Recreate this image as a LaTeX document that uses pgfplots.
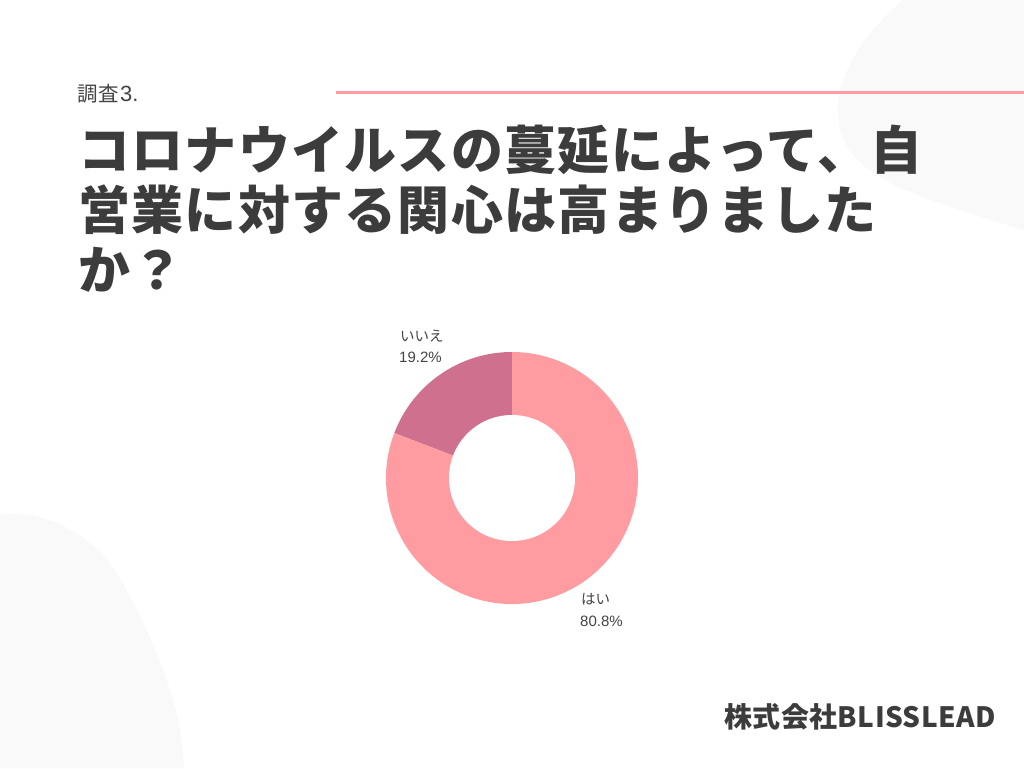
\documentclass[border=0pt]{standalone}
\usepackage{pgfplots}
\pgfplotsset{compat=1.18}
\usepackage{pgfplotstable}
\usepackage{fontspec}
\setmainfont{Noto Sans CJK JP}
\newfontfamily\lat{Liberation Sans}
\definecolor{hai}{HTML}{FF9CA2}
\definecolor{iie}{HTML}{D0708F}
\definecolor{txt}{HTML}{3C3C3C}
\definecolor{lbl}{HTML}{444444}
\definecolor{blob}{HTML}{F9F9F9}
\pgfplotstableread{
label value
iie 19.2
hai 80.8
}\piedata
\begin{document}
\begin{tikzpicture}[x=1pt,y=1pt]
\pgfplotstablegetelem{0}{value}\of\piedata \let\vA\pgfplotsretval
\pgfplotstablegetelem{1}{value}\of\piedata \let\vB\pgfplotsretval
\pgfmathsetmacro\aEnd{90+\vA*3.6}
\pgfmathsetmacro\bEnd{\aEnd+\vB*3.6}
\fill[white] (0,0) rectangle (1024,768);
\path[use as bounding box] (0,0) rectangle (1024,768);
\begin{scope}
\clip (0,0) rectangle (1024,768);
% top-right blob
\fill[blob] (903,768) .. controls (870,740) and (840,700) .. (838,663)
  .. controls (836,620) and (860,600) .. (900,580)
  .. controls (950,560) and (990,548) .. (1024,538) -- (1024,768) -- cycle;
% bottom-left blob
\fill[blob] (0,253) .. controls (40,258) and (80,240) .. (110,205)
  .. controls (140,160) and (170,90) .. (180,40) -- (184,0) -- (0,0) -- cycle;
\end{scope}
\draw[hai, line width=3pt] (336,675) -- (1024,675);
\node[anchor=base west, inner sep=0, text=lbl, font=\fontsize{20.5}{24}\selectfont\addfontfeature{LetterSpace=5}] at (77,666) {調査\hspace{1pt}{\lat\fontsize{22}{24}\selectfont 3.}};
\begin{scope}[every node/.style={anchor=base west, inner sep=0, text=txt, font=\fontsize{52}{60}\selectfont\bfseries\addfontfeature{LetterSpace=2.5}}]
\node at (78,598) {コロナウイルスの蔓延によって、自};
\node at (78,538) {営業に対する関心は高まりました};
\node at (78,478) {か？};
\end{scope}
\begin{axis}[at={(512pt,290pt)}, anchor=center, width=252pt, height=252pt,
  scale only axis, hide axis, xmin=-1, xmax=1, ymin=-1, ymax=1, clip=false]
\fill[iie] (axis cs:0,0) -- ++(90:126pt) arc[start angle=90, end angle=\aEnd, radius=126pt] -- cycle;
\fill[hai] (axis cs:0,0) -- ++(\aEnd:126pt) arc[start angle=\aEnd, end angle=\bEnd, radius=126pt] -- cycle;
\fill[white] (axis cs:0,0) circle[radius=63pt];
\end{axis}
\begin{scope}[every node/.style={anchor=base west, inner sep=0, text=lbl, font=\fontsize{14.5}{17}\selectfont}]
\node at (400,426) {いいえ};
\node at (399,405) {\lat\fontsize{15}{17}\selectfont 19.2\%};
\node at (581,163) {はい};
\node at (580,142) {\lat\fontsize{15}{17}\selectfont 80.8\%};
\end{scope}
\node[anchor=base east, inner sep=0, text=txt, font=\fontsize{28}{30}\selectfont\bfseries\addfontfeature{LetterSpace=1.5}] at (996,41) {株式会社BLISSLEAD};
\end{tikzpicture}
\end{document}
